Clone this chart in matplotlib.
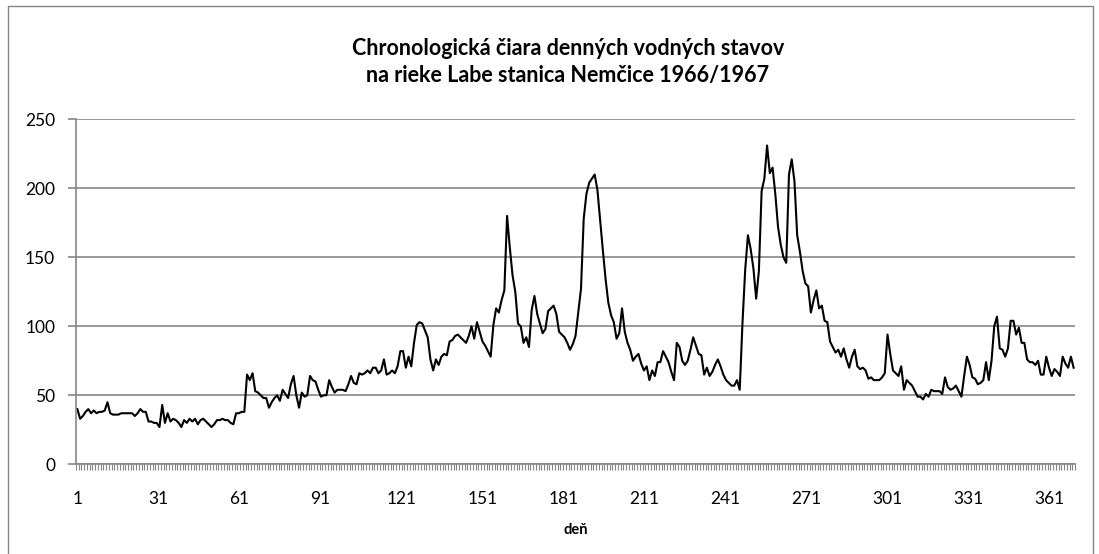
import numpy as np
import matplotlib.pyplot as plt
from matplotlib.patches import Rectangle

plt.rcParams['font.family'] = ['Lato', 'DejaVu Sans']

# denné vodné stavy [cm], Labe - Nemčice, hydrologický rok 1966/1967 (deň 1 .. 365)
stavy = [
    40, 33, 35, 38, 40, 37, 39, 37, 38, 38,
    39, 45, 37, 36, 36, 36, 37, 37, 37, 37,
    37, 35, 37, 40, 38, 38, 31, 31, 30, 30,
    27, 43, 30, 37, 31, 33, 32, 30, 27, 32,
    30, 33, 31, 33, 29, 32, 33, 31, 29, 27,
    29, 32, 32, 33, 32, 32, 30, 29, 37, 37,
    38, 38, 65, 61, 66, 53, 52, 50, 48, 48,
    41, 45, 48, 50, 46, 54, 51, 48, 58, 64,
    50, 41, 52, 49, 50, 64, 61, 60, 54, 49,
    50, 50, 61, 56, 52, 54, 54, 54, 53, 58,
    64, 59, 58, 66, 65, 66, 68, 66, 70, 70,
    66, 68, 76, 65, 66, 68, 66, 71, 82, 82,
    70, 78, 71, 88, 101, 103, 102, 97, 92, 76,
    68, 76, 72, 78, 80, 79, 89, 90, 93, 94,
    92, 90, 88, 93, 100, 91, 103, 96, 89, 86,
    82, 78, 101, 113, 110, 119, 126, 180, 157, 137,
    125, 102, 100, 88, 92, 85, 112, 122, 109, 102,
    95, 98, 111, 113, 115, 109, 96, 94, 92, 88,
    83, 87, 93, 110, 127, 178, 196, 204, 207, 210,
    199, 177, 155, 134, 117, 108, 103, 91, 95, 113,
    96, 88, 83, 75, 78, 80, 73, 68, 71, 61,
    68, 64, 74, 74, 82, 78, 74, 67, 61, 88,
    85, 75, 72, 75, 83, 92, 86, 80, 79, 65,
    70, 64, 67, 72, 76, 71, 65, 61, 59, 57,
    57, 61, 54, 102, 141, 166, 156, 142, 120, 140,
    198, 207, 231, 211, 215, 196, 172, 159, 150, 146,
    210, 221, 205, 166, 154, 140, 131, 129, 110, 119,
    126, 113, 115, 104, 103, 89, 85, 81, 83, 78,
    84, 76, 70, 78, 83, 71, 69, 70, 68, 62,
    63, 61, 61, 61, 63, 66, 94, 80, 68, 66,
    64, 71, 54, 61, 59, 57, 53, 49, 49, 47,
    51, 49, 54, 53, 53, 53, 51, 63, 56, 54,
    55, 57, 53, 49, 64, 78, 72, 63, 62, 58,
    59, 61, 74, 61, 75, 100, 107, 84, 83, 78,
    84, 104, 104, 94, 99, 88, 88, 76, 74, 74,
    72, 75, 65, 65, 78, 70, 64, 69, 67, 64,
    78, 73, 70, 78, 70,
]
dni = np.arange(1, len(stavy) + 1)

y_ticks = [0, 50, 100, 150, 200, 250]
x_ticks = list(range(1, 366, 30))

title_1 = "Chronologická čiara denných vodných stavov"
title_2 = "na rieke Labe stanica Nemčice 1966/1967"
x_title = "deň"

GRAY = "#868686"
W, H = 1099, 554

fig = plt.figure(figsize=(W / 100, H / 100), dpi=100)
fig.patch.set_facecolor("white")

# ramik grafu
fig.patches.append(Rectangle((8 / W, -0.05), (1093 - 8) / W, 1.05 - 6 / H,
                             transform=fig.transFigure, fill=False,
                             edgecolor=GRAY, lw=1.0))

ax = fig.add_axes([76 / W, 1 - 464.3 / H, (1075 - 76) / W, (464.3 - 119.3) / H])
ax.plot(dni, stavy, color="black", lw=1.5)

ax.set_xlim(0.5, len(stavy) + 0.5)
ax.set_ylim(0, 250)

ax.set_yticks(y_ticks)
ax.set_yticklabels([str(v) for v in y_ticks], fontsize=12.5)
# popisy dni sedia v Exceli o kusok nahusto, preto mierne stiahnute k zaciatku
ax.set_xticks([1 + (v - 1) * 0.987 for v in x_ticks])
ax.set_xticklabels([str(v) for v in x_ticks], fontsize=12.5)
ax.set_xticks(np.arange(0.5, len(stavy) + 1, 1), minor=True)

ax.tick_params(axis="y", direction="out", length=6, width=1.2, color=GRAY, pad=9)
ax.tick_params(axis="x", which="major", length=0, pad=19)
ax.tick_params(axis="x", which="minor", direction="out", length=4, width=0.8, color=GRAY)

ax.yaxis.grid(True, color=GRAY, lw=1.2)
ax.set_axisbelow(True)
for s in ["top", "right"]:
    ax.spines[s].set_visible(False)
for s in ["left", "bottom"]:
    ax.spines[s].set_color(GRAY)
    ax.spines[s].set_linewidth(1.2)

ax.set_xlabel(x_title, fontsize=10.5, fontweight="bold", labelpad=12)

fig.text(568 / W, 1 - 55 / H, title_1, ha="center", va="baseline",
         fontsize=15.5, fontweight="bold")
fig.text(568 / W, 1 - 82 / H, title_2, ha="center", va="baseline",
         fontsize=15.5, fontweight="bold")

fig.savefig("out.png", dpi=100)
